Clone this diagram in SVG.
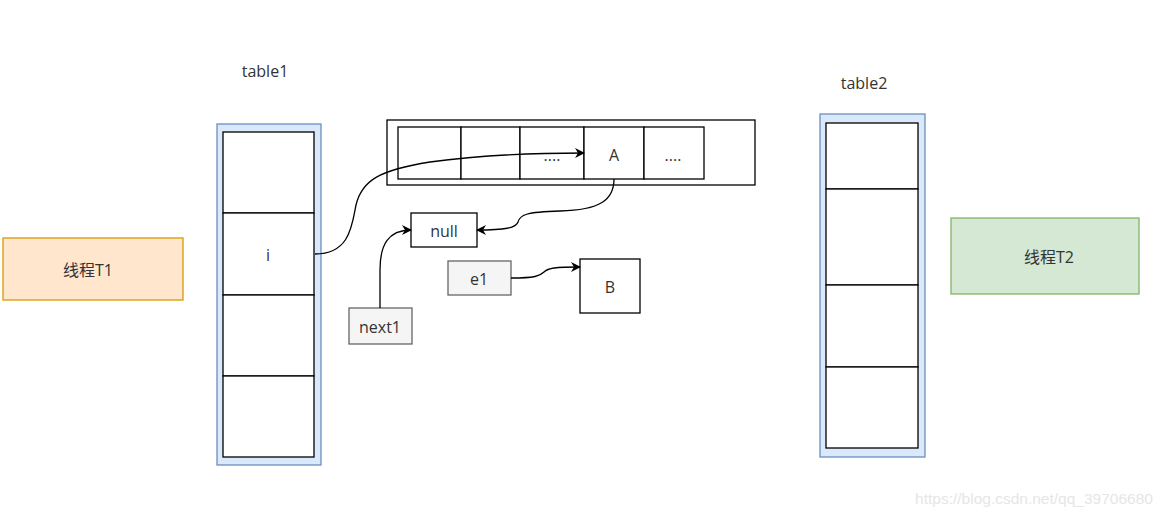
<svg xmlns="http://www.w3.org/2000/svg" width="1165" height="517" viewBox="0 0 1165 517">
<defs>
<marker id="arr" viewBox="0 0 10 10" refX="9" refY="5" markerWidth="10" markerHeight="10" markerUnits="userSpaceOnUse" orient="auto">
<path d="M0,0 L10,5 L0,10 L3,5 Z" fill="#000"/>
</marker>
</defs>
<style>
text{font-family:"Open Sans","Noto Sans","Noto Sans CJK SC",sans-serif;font-size:16px;fill:#333;text-anchor:middle;dominant-baseline:central}
.cell{fill:#fff;stroke:#000;stroke-width:1.3}
.tbl{fill:#dae8fc;stroke:#6c8ebf;stroke-width:1.3}
.grey{fill:#f5f5f5;stroke:#666;stroke-width:1.3}
.con{fill:none;stroke:#000;stroke-width:1.3;marker-end:url(#arr)}
</style>
<rect width="1165" height="517" fill="#fff"/>
<g id="label-table1"><text x="265" y="71">table1</text></g>
<g id="label-table2"><text x="864" y="83">table2</text></g>
<g id="table1">
<rect class="tbl" x="217" y="124" width="104" height="341"/>
<rect class="cell" x="223" y="132" width="91" height="81"/>
<rect class="cell" x="223" y="213" width="91" height="82"/>
<rect class="cell" x="223" y="295" width="91" height="81"/>
<rect class="cell" x="223" y="376" width="91" height="81"/>
<text x="268" y="255">i</text>
</g>
<g id="table2">
<rect class="tbl" x="820" y="114" width="105" height="343"/>
<rect class="cell" x="826" y="123" width="92" height="66"/>
<rect class="cell" x="826" y="189" width="92" height="96"/>
<rect class="cell" x="826" y="285" width="92" height="82"/>
<rect class="cell" x="826" y="367" width="92" height="81"/>
</g>
<g id="array">
<rect class="cell" x="387" y="120" width="368" height="65"/>
<rect class="cell" x="398" y="127" width="63" height="52"/>
<rect class="cell" x="461" y="127" width="59" height="52"/>
<rect class="cell" x="520" y="127" width="64" height="52"/>
<rect class="cell" x="584" y="127" width="60" height="52"/>
<rect class="cell" x="644" y="127" width="60" height="52"/>
<text x="552" y="155">....</text>
<text x="614" y="155">A</text>
<text x="673" y="155">....</text>
</g>
<g id="null"><rect class="cell" x="411" y="213" width="66" height="34"/><text x="444" y="231">null</text></g>
<g id="e1"><rect class="grey" x="448" y="261" width="63" height="34"/><text x="479" y="279">e1</text></g>
<g id="B"><rect class="cell" x="580" y="259" width="60" height="54"/><text x="610" y="287">B</text></g>
<g id="next1"><rect class="grey" x="349" y="308" width="63" height="36"/><text x="380" y="327">next1</text></g>
<g id="T1"><rect x="3" y="238" width="180" height="62" fill="#ffe6cc" stroke="#d79b00" stroke-width="1.3"/><text x="88" y="270">线程T1</text></g>
<g id="T2"><rect x="951" y="218" width="188" height="76" fill="#d5e8d4" stroke="#82b366" stroke-width="1.3"/><text x="1049" y="257">线程T2</text></g>
<g id="connectors">
<path class="con" d="M315,254 C350,254 352,225 356,205 C362,180 380,170 430,162 C480,155 540,153 584,153"/>
<path class="con" d="M614,179 C614,200 600,210 560,211 C525,212 520,215 518,222 C516,228 505,230 477,230"/>
<path class="con" d="M380,308 L380,270 C380,245 388,230 411,230"/>
<path class="con" d="M511,278 C535,278 540,276 544,272 C548,268 555,267 580,267"/>
</g>
<text x="1034" y="498" style="font-family:'Liberation Sans',sans-serif;font-size:15.5px;fill:#e6e6e6">https://blog.csdn.net/qq_39706680</text>
</svg>
